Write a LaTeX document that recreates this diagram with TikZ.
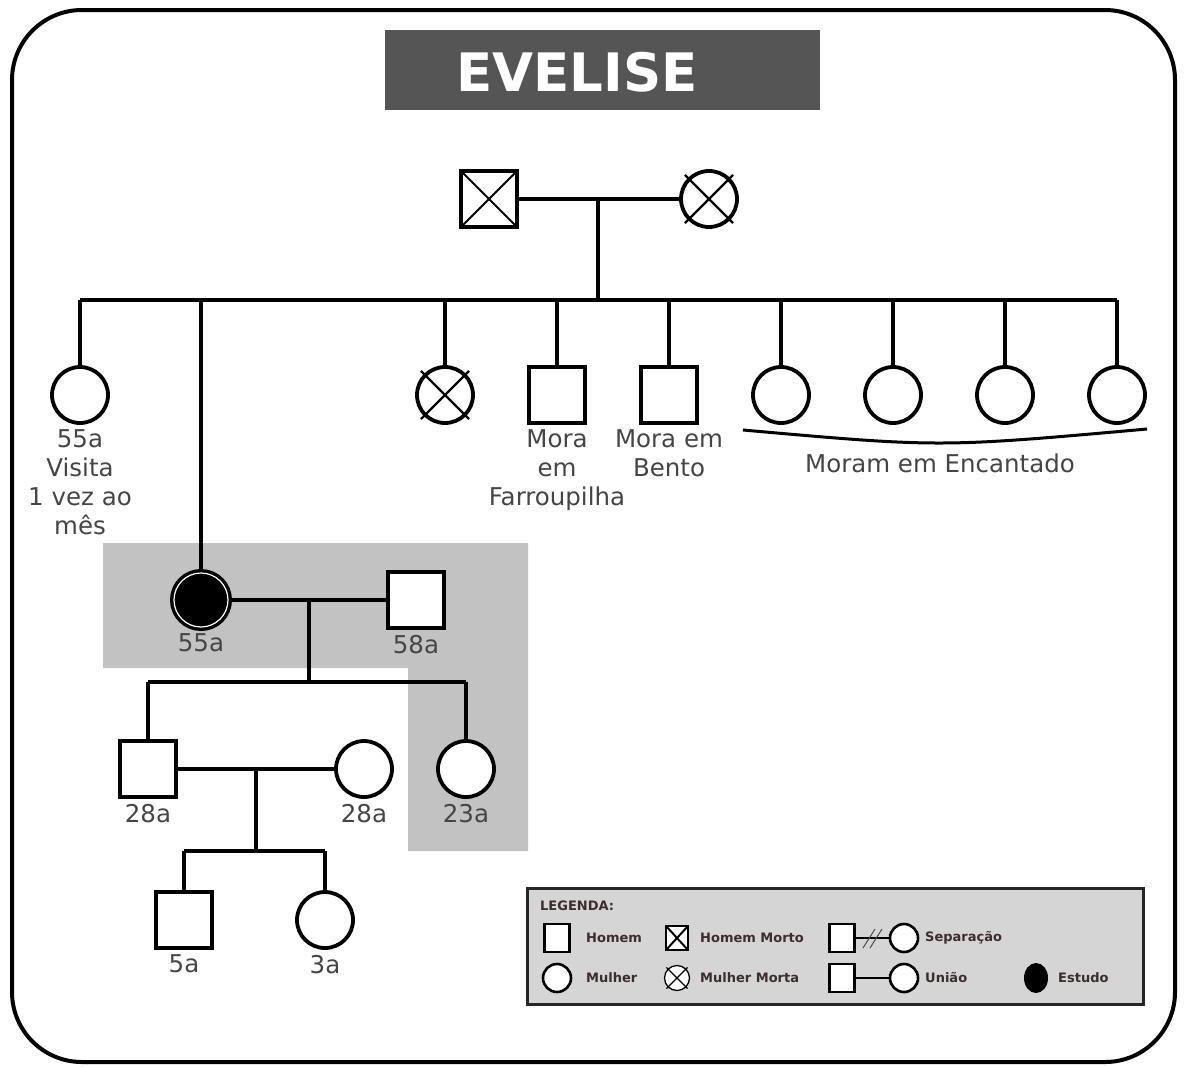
\documentclass[tikz,border=0pt]{standalone}
\usepackage{fontspec}
\setmainfont{DejaVu Sans}
\usetikzlibrary{positioning, shapes.geometric}

\definecolor{titlegray}{HTML}{555555}
\definecolor{shadegray}{HTML}{C2C2C2}
\definecolor{legendgray}{HTML}{D5D5D5}
\definecolor{labelgray}{HTML}{454545}
\definecolor{legendtext}{HTML}{3A2E2E}

\tikzset{
  link/.style={line width=3.8pt},
  man/.style={draw, rectangle, line width=3.8pt, minimum size=56pt, fill=white, inner sep=0pt},
  woman/.style={draw, circle, line width=3.8pt, minimum size=56pt, fill=white, inner sep=0pt},
  crossed/.style={path picture={\draw[line width=2pt]
      (path picture bounding box.north west) -- (path picture bounding box.south east)
      (path picture bounding box.north east) -- (path picture bounding box.south west);}},
  xline/.style={line width=2.2pt},
  lbl/.style={text=labelgray, font=\fontsize{24.5}{29}\selectfont, align=center, inner sep=0pt},
  lman/.style={draw, rectangle, line width=2.6pt, minimum width=25pt, minimum height=28pt, fill=white, inner sep=0pt},
  lwoman/.style={draw, circle, line width=2.6pt, minimum size=28pt, fill=white, inner sep=0pt},
  ltxt/.style={text=legendtext, font=\fontsize{13}{15}\selectfont\bfseries, anchor=west, inner sep=0pt}
}

\begin{document}
\begin{tikzpicture}[x=1pt, y=-1pt]
\useasboundingbox (0,0) rectangle (1185,1066);
\fill[white] (0,0) rectangle (1185,1066);

% frame and title
\draw[line width=4pt, rounded corners=70pt] (12,10) rectangle (1175,1062);
\node[fill=titlegray, minimum width=435pt, minimum height=80pt] (title) at (602,70) {};
\node[text=white, font=\fontsize{53}{60}\selectfont\bfseries] (titletxt) at (577,72) {EVELISE};

% shaded household
\fill[shadegray] (103,543) -- (528,543) -- (528,851) -- (408,851) -- (408,668) -- (103,668) -- cycle;

% grandparents
\node[man, crossed] (gf) at (489,199) {};
\node[woman] (gm) at (709,199) {};
\draw[xline] ([shift={(135:34)}]gm.center) -- ([shift={(-45:34)}]gm.center)
             ([shift={(45:34)}]gm.center) -- ([shift={(-135:34)}]gm.center);
\coordinate (m1) at (598,199);
\coordinate (sib) at (598,300);
\draw[link] (gf) -- (gm);
\draw[link] (m1) -- (sib);

% siblings
\node[woman] (c1) at (80,395) {};
\node[woman] (c2) at (445,395) {};
\draw[xline] ([shift={(135:34)}]c2.center) -- ([shift={(-45:34)}]c2.center)
             ([shift={(45:34)}]c2.center) -- ([shift={(-135:34)}]c2.center);
\node[man] (c3) at (557,395) {};
\node[man] (c4) at (669,395) {};
\node[woman] (c5) at (781,395) {};
\node[woman] (c6) at (893,395) {};
\node[woman] (c7) at (1005,395) {};
\node[woman] (c8) at (1117,395) {};
\node[woman, fill=black, double=white, double distance=1.2pt, line width=3.4pt, minimum size=54pt] (ev) at (201,600) {};

\draw[link] (c1.north |- sib) -- (c8.north |- sib);
\foreach \k in {c1,c2,c3,c4,c5,c6,c7,c8,ev}
  \draw[link] (\k.north) -- (\k.north |- sib);

\node[lbl, below=5pt of c1] (c1lbl) {55a\\Visita\\1 vez ao\\mês};
\node[lbl, below=5pt of c3] (c3lbl) {Mora\\em\\Farroupilha};
\node[lbl, below=5pt of c4] (c4lbl) {Mora em\\Bento};
\draw[line width=3pt] (743,430) .. controls (940,447.5) .. (1147,429);
\node[lbl] (enclbl) at (940,463) {Moram em Encantado};

% Evelise and husband
\node[man] (hu) at (416,600) {};
\coordinate (m2) at (309,600);
\coordinate (kid) at (309,682);
\draw[link] (ev) -- (hu);
\draw[link] (m2) -- (kid);
\node[lbl, below=5pt of ev] (evlbl) {55a};
\node[lbl, below=5pt of hu] (hulbl) {58a};

% children
\node[man] (so) at (148,769) {};
\node[woman] (sw) at (364,769) {};
\node[woman] (da) at (466,769) {};
\draw[link] (so.north |- kid) -- (da.north |- kid);
\foreach \k in {so,da}
  \draw[link] (\k.north) -- (\k.north |- kid);
\node[lbl, below=5pt of so] (solbl) {28a};
\node[lbl, below=5pt of sw] (swlbl) {28a};
\node[lbl, below=5pt of da] (dalbl) {23a};

% grandchildren
\coordinate (m3) at (256,769);
\coordinate (gk) at (256,851);
\draw[link] (so) -- (sw);
\draw[link] (m3) -- (gk);
\node[man] (gs) at (184,920) {};
\node[woman] (gd) at (325,920) {};
\draw[link] (gs.north |- gk) -- (gd.north |- gk);
\foreach \k in {gs,gd}
  \draw[link] (\k.north) -- (\k.north |- gk);
\node[lbl, below=5pt of gs] (gslbl) {5a};
\node[lbl, below=5pt of gd] (gdlbl) {3a};

% legend
\draw[fill=legendgray, draw=black!85, line width=3pt] (527,888) rectangle (1143,1004);
\node[ltxt] (legtitle) at (540,906) {LEGENDA:};
\node[lman] (lm) at (557,938) {};
\node[ltxt] (lmtxt) at (586,938) {Homem};
\node[lwoman] (lw) at (557,978) {};
\node[ltxt] (lwtxt) at (586,978) {Mulher};
\node[lman, line width=1.3pt, minimum width=22pt, minimum height=24pt, crossed] (ldm) at (677,938) {};
\node[ltxt] (ldmtxt) at (700,938) {Homem Morto};
\node[lwoman, line width=1.3pt, minimum size=25pt] (ldw) at (677,978) {};
\draw[line width=1.2pt] ([shift={(135:15)}]ldw.center) -- ([shift={(-45:15)}]ldw.center)
                        ([shift={(45:15)}]ldw.center) -- ([shift={(-135:15)}]ldw.center);
\node[ltxt] (ldwtxt) at (700,978) {Mulher Morta};
\node[lman] (lsm) at (842,938) {};
\node[lwoman] (lsw) at (904,938) {};
\draw[line width=2pt] (lsm) -- (lsw);
\draw[line width=1pt, black!70] (863,948) -- (875,929) (870,948) -- (882,929);
\node[ltxt] (lstxt) at (925,938) {Separação};
\node[lman] (lum) at (842,978) {};
\node[lwoman] (luw) at (904,978) {};
\draw[line width=2pt] (lum) -- (luw);
\node[ltxt] (lutxt) at (925,978) {União};
\node[ellipse, fill=black, minimum width=24pt, minimum height=30pt, inner sep=0pt] (lst) at (1036,978) {};
\node[ltxt] (lsttxt) at (1058,978) {Estudo};
\end{tikzpicture}
\end{document}
